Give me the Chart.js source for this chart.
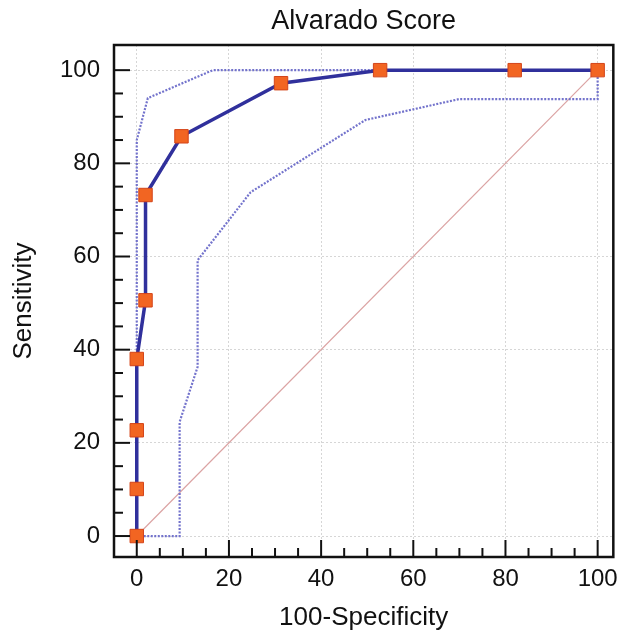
<!DOCTYPE html>
<html>
<head>
<meta charset="utf-8">
<script src="https://cdn.jsdelivr.net/npm/chart.js@4/dist/chart.umd.min.js"></script>
<style>
  body { margin: 0; background: #fff; }
  #wrap { width: 626px; height: 633px; }
</style>
</head>
<body>
<div id="wrap"><canvas id="roc" width="626" height="633"></canvas></div>
<script>
// ROC curve points (100-Specificity, Sensitivity)
const rocX = [0, 0, 0, 0, 1.9, 1.9, 9.7, 31.3, 52.8, 82, 100];
const rocY = [0, 10.1, 22.7, 38, 50.6, 73.2, 85.8, 97.2, 100, 100, 100];

// 95% confidence bounds
const upperX = [0, 0, 2.4, 16.5, 100];
const upperY = [0, 85, 94, 100, 100];
const lowerX = [0, 9.3, 9.3, 13.2, 13.2, 24.7, 49.6, 70, 100, 100];
const lowerY = [0, 0, 24.5, 36.3, 59.2, 73.8, 89.3, 93.8, 93.8, 100];

// reference diagonal
const diagX = [0, 100];
const diagY = [0, 100];

const xTicks = [0, 20, 40, 60, 80, 100];
const yTicks = [0, 20, 40, 60, 80, 100];

const chartTitle = 'Alvarado Score';
const FONT = "'Liberation Sans', Arial, sans-serif";

function pts(xs, ys) {
    return xs.map((x, i) => ({ x: x, y: ys[i] }));
}

// title centred over the plot box, frame and inward tick marks every 5 units
const framePlugin = {
    id: 'frame',
    afterDraw(chart) {
        const { ctx, chartArea: a, scales } = chart;
        ctx.save();
        ctx.fillStyle = '#111';
        ctx.font = '27px ' + FONT;
        ctx.textAlign = 'center';
        ctx.textBaseline = 'middle';
        ctx.fillText(chartTitle, (a.left + a.right) / 2, 22);

        ctx.strokeStyle = '#111';
        ctx.lineWidth = 2;
        for (let v = 0; v <= 100; v += 5) {
            const major = v % 20 === 0;
            const px = scales.x.getPixelForValue(v);
            ctx.beginPath();
            ctx.moveTo(px, a.bottom);
            ctx.lineTo(px, a.bottom - (major ? 17 : 9));
            ctx.stroke();
            const py = scales.y.getPixelForValue(v);
            ctx.beginPath();
            ctx.moveTo(a.left, py);
            ctx.lineTo(a.left + (major ? 16 : 9), py);
            ctx.stroke();
        }
        ctx.lineWidth = 2.5;
        ctx.strokeRect(a.left, a.top, a.right - a.left, a.bottom - a.top);
        ctx.restore();
    }
};

new Chart(document.getElementById('roc'), {
    type: 'scatter',
    data: {
        datasets: [
            {
                label: 'ROC',
                data: pts(rocX, rocY),
                showLine: true,
                borderColor: '#30309c',
                borderWidth: 3.5,
                pointStyle: 'rect',
                pointRadius: 9.5,
                pointBackgroundColor: '#f26522',
                pointBorderColor: '#d4451a',
                pointBorderWidth: 1,
                order: 0
            },
            {
                label: 'Upper',
                data: pts(upperX, upperY),
                showLine: true,
                borderColor: '#7373cc',
                borderWidth: 2.2,
                borderDash: [2, 1.5],
                pointRadius: 0,
                order: 1
            },
            {
                label: 'Lower',
                data: pts(lowerX, lowerY),
                showLine: true,
                borderColor: '#7373cc',
                borderWidth: 2.2,
                borderDash: [2, 1.5],
                pointRadius: 0,
                order: 1
            },
            {
                label: 'Diagonal',
                data: pts(diagX, diagY),
                showLine: true,
                borderColor: '#dba3a3',
                borderWidth: 1.2,
                pointRadius: 0,
                order: 2
            }
        ]
    },
    options: {
        responsive: false,
        animation: false,
        layout: { padding: { left: 0, right: 7, top: 45, bottom: 0 } },
        plugins: {
            legend: { display: false },
            tooltip: { enabled: false },
            title: { display: false }
        },
        scales: {
            x: {
                type: 'linear',
                min: -4.94,
                max: 103.4,
                afterBuildTicks: s => { s.ticks = xTicks.map(v => ({ value: v })); },
                afterFit: s => { s.height = 76; },
                grid: { color: '#d6d6d6', lineWidth: 1, drawTicks: false },
                border: { display: false, dash: [2, 2] },
                ticks: {
                    color: '#111',
                    padding: 8,
                    maxRotation: 0,
                    font: { family: FONT, size: 24 }
                },
                title: {
                    display: true,
                    text: '100-Specificity',
                    color: '#111',
                    font: { family: FONT, size: 26, lineHeight: 1.2 },
                    padding: { top: 0, bottom: 0 }
                }
            },
            y: {
                type: 'linear',
                min: -4.5,
                max: 105.4,
                afterBuildTicks: s => { s.ticks = yTicks.map(v => ({ value: v })); },
                afterFit: s => { s.width = 114; },
                grid: { color: '#d6d6d6', lineWidth: 1, drawTicks: false },
                border: { display: false, dash: [2, 2] },
                ticks: {
                    color: '#111',
                    padding: 14,
                    font: { family: FONT, size: 24 }
                },
                title: {
                    display: true,
                    text: 'Sensitivity',
                    color: '#111',
                    font: { family: FONT, size: 26, lineHeight: 1.2 },
                    padding: { top: 8, bottom: 0 }
                }
            }
        }
    },
    plugins: [framePlugin]
});
</script>
</body>
</html>
